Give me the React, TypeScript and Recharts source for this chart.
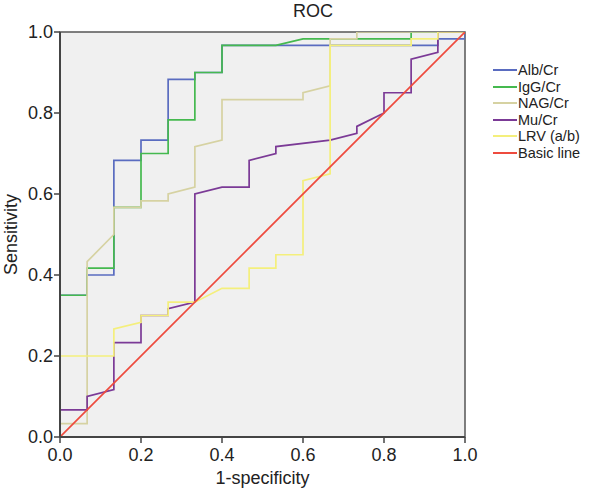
import React from 'react';
import { LineChart, Line, XAxis, YAxis, ReferenceArea, Legend } from 'recharts';

// (1-specificity, sensitivity)
const albX = [0, 0, 0.067, 0.067, 0.133, 0.133, 0.2, 0.2, 0.267, 0.267, 0.333, 0.333, 0.4, 0.4, 0.933, 0.933, 1, 1];
const albY = [0, 0.35, 0.35, 0.4, 0.4, 0.683, 0.683, 0.733, 0.733, 0.883, 0.883, 0.9, 0.9, 0.967, 0.967, 0.983, 0.983, 1];

const iggX = [0, 0, 0.067, 0.067, 0.133, 0.133, 0.133, 0.2, 0.2, 0.267, 0.267, 0.333, 0.333, 0.4, 0.4, 0.533, 0.6, 0.867, 0.867, 1];
const iggY = [0, 0.35, 0.35, 0.417, 0.417, 0.5, 0.567, 0.567, 0.7, 0.7, 0.783, 0.783, 0.9, 0.9, 0.967, 0.967, 0.983, 0.983, 1, 1];

const nagX = [0, 0, 0.067, 0.067, 0.133, 0.133, 0.2, 0.2, 0.267, 0.267, 0.333, 0.333, 0.4, 0.4, 0.6, 0.6, 0.667, 0.667, 0.733, 0.733, 1];
const nagY = [0, 0.033, 0.033, 0.433, 0.5, 0.567, 0.567, 0.583, 0.583, 0.6, 0.617, 0.717, 0.733, 0.833, 0.833, 0.85, 0.867, 0.983, 0.983, 1, 1];

const muX = [0, 0, 0.067, 0.067, 0.133, 0.133, 0.2, 0.2, 0.267, 0.267, 0.333, 0.333, 0.4, 0.467, 0.467, 0.533, 0.533, 0.667, 0.733, 0.733, 0.8, 0.8, 0.867, 0.867, 0.933, 0.933, 1];
const muY = [0, 0.067, 0.067, 0.1, 0.117, 0.233, 0.233, 0.3, 0.3, 0.317, 0.333, 0.6, 0.617, 0.617, 0.683, 0.7, 0.717, 0.733, 0.75, 0.767, 0.8, 0.85, 0.85, 0.933, 0.95, 1, 1];

const lrvX = [0, 0, 0.133, 0.133, 0.2, 0.2, 0.267, 0.267, 0.333, 0.4, 0.467, 0.467, 0.533, 0.533, 0.6, 0.6, 0.667, 0.667, 0.867, 0.867, 0.933, 0.933, 1];
const lrvY = [0, 0.2, 0.2, 0.267, 0.283, 0.3, 0.3, 0.333, 0.333, 0.367, 0.367, 0.417, 0.417, 0.45, 0.45, 0.633, 0.65, 0.967, 0.967, 0.983, 0.983, 1, 1];

const baseX = [0, 1];
const baseY = [0, 1];

const ticks = [0, 0.2, 0.4, 0.6, 0.8, 1.0];

const seriesNames = ['Alb/Cr', 'IgG/Cr', 'NAG/Cr', 'Mu/Cr', 'LRV (a/b)', 'Basic line'];
const seriesColors = ['#5a6cc0', '#45b94f', '#d6d2a2', '#7b3a96', '#f4ef7c', '#ee4b3e'];

const zip = (xs: number[], ys: number[]) => xs.map((x, i) => ({ x, y: ys[i] }));
const seriesData = [
  zip(albX, albY),
  zip(iggX, iggY),
  zip(nagX, nagY),
  zip(muX, muY),
  zip(lrvX, lrvY),
  zip(baseX, baseY),
];

const FONT = '"Liberation Sans", Arial, Helvetica, sans-serif';

const renderLegend = () => (
  <div style={{ fontFamily: FONT }}>
    {seriesNames.map((name, i) => (
      <div key={name} style={{ display: 'flex', alignItems: 'center', height: 16.5 }}>
        <svg width={26} height={16} style={{ display: 'block', flex: 'none' }}>
          <line x1={1} x2={25} y1={8} y2={8} stroke={seriesColors[i]} strokeWidth={2} />
        </svg>
        <div style={{ fontSize: 14.5, lineHeight: '16px', color: '#222', whiteSpace: 'nowrap' }}>{name}</div>
      </div>
    ))}
  </div>
);

export default function App() {
  return (
    <div style={{ position: 'absolute', left: 0, top: 0, width: 592, height: 495, background: '#fff', fontFamily: FONT }}>
      <div
        style={{
          position: 'absolute',
          left: 263,
          width: 100,
          top: 2,
          textAlign: 'center',
          fontSize: 18,
          lineHeight: '18px',
          color: '#222',
        }}
      >
        ROC
      </div>
      <LineChart width={592} height={495} margin={{ top: 32, right: 127, bottom: 0, left: 0 }}>
        <XAxis
          dataKey="x"
          type="number"
          domain={[0, 1]}
          ticks={ticks}
          tickFormatter={(v: number) => v.toFixed(1)}
          height={58}
          tickSize={6}
          tickMargin={5}
          axisLine={{ stroke: '#444', strokeWidth: 2 }}
          tickLine={{ stroke: '#444', strokeWidth: 1.5 }}
          tick={{ fontSize: 18, fill: '#222', fontFamily: FONT }}
          allowDataOverflow
          label={{ value: '1-specificity', position: 'insideBottom', offset: 11, style: { fontSize: 18, fill: '#222', fontFamily: FONT } }}
        />
        <YAxis
          type="number"
          domain={[0, 1]}
          ticks={ticks}
          tickFormatter={(v: number) => v.toFixed(1)}
          width={60}
          tickSize={6}
          tickMargin={1}
          axisLine={{ stroke: '#444', strokeWidth: 2 }}
          tickLine={{ stroke: '#444', strokeWidth: 1.5 }}
          tick={{ fontSize: 18, fill: '#222', fontFamily: FONT }}
          allowDataOverflow
          label={{
            value: 'Sensitivity',
            angle: -90,
            position: 'insideLeft',
            offset: 11,
            style: { fontSize: 18, fill: '#222', fontFamily: FONT, textAnchor: 'middle' },
          }}
        />
        <ReferenceArea x1={0} x2={1} y1={0} y2={1} fill="#f0f0f0" fillOpacity={1} stroke="#555" strokeWidth={1.5} ifOverflow="visible" />
        {seriesData.map((d, i) => (
          <Line
            key={seriesNames[i]}
            data={d}
            dataKey="y"
            name={seriesNames[i]}
            type="linear"
            stroke={seriesColors[i]}
            strokeWidth={1.7}
            dot={false}
            activeDot={false}
            isAnimationActive={false}
          />
        ))}
        <Legend
          layout="horizontal"
          verticalAlign="middle"
          align="center"
          content={renderLegend}
          wrapperStyle={{ position: 'absolute', left: 492, top: 62, width: 100, height: 'auto' }}
        />
      </LineChart>
    </div>
  );
}
